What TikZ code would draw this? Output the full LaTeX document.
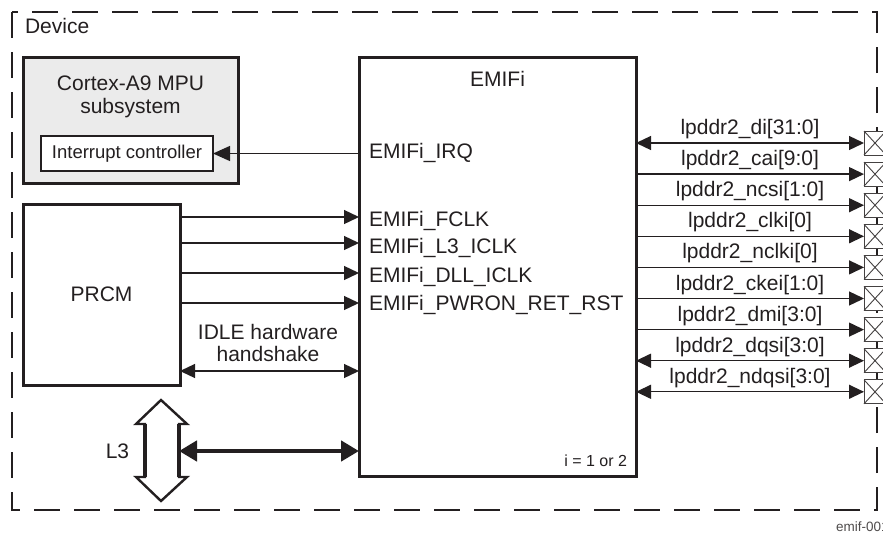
\documentclass[tikz,border=0pt]{standalone}
\usepackage{fontspec}
\setmainfont{Liberation Sans}
\usetikzlibrary{arrows.meta,calc}
\definecolor{ink}{HTML}{231F20}
\definecolor{cortexfill}{HTML}{EBEBEB}
\begin{document}
\begin{tikzpicture}[x=1pt,y=-1pt,
  every node/.style={text=ink, inner sep=0pt, outer sep=0pt},
  bigfont/.style={font=\fontsize{21}{22.4}\selectfont},
  midfont/.style={font=\fontsize{18.5}{22}\selectfont},
  smallfont/.style={font=\fontsize{16}{19}\selectfont},
  tinyfont/.style={font=\fontsize{13.5}{16}\selectfont},
  blockbox/.style={draw=ink, line width=3pt, fill=white},
  devframe/.style={draw=ink, line width=2.6pt, dash pattern=on 26pt off 14pt},
  pinbox/.style={draw=ink!85, line width=0.9pt, fill=white, minimum width=22pt, minimum height=24pt},
  sig/.style={draw=ink, line width=1.3pt, -{Triangle[length=15pt,width=14pt]}},
  bisig/.style={draw=ink, line width=1.3pt, {Triangle[length=15pt,width=14pt]}-{Triangle[length=15pt,width=14pt]}},
  busarrow/.style={draw=ink, line width=4.5pt, {Triangle[length=18pt,width=20pt]}-{Triangle[length=18pt,width=20pt]}},
]
\useasboundingbox (0,0) rectangle (883,533);

% Device frame
\draw[devframe] (12,12) rectangle (877,510);
\node[bigfont, anchor=base west] (devlbl) at (25,33) {Device};

% Cortex-A9 MPU subsystem
\node[blockbox, fill=cortexfill, minimum width=215pt, minimum height=126pt] (cortex) at (130.5,120) {};
\node[bigfont, align=center, anchor=base] (cortexlbl) at (130.5,113) {Cortex-A9 MPU\\subsystem};
\node[draw=ink, line width=2.4pt, fill=white, minimum width=172pt, minimum height=35pt, midfont] (intc) at (127,153.5) {Interrupt controller};

% PRCM
\node[blockbox, minimum width=157pt, minimum height=181pt, bigfont] (prcm) at (101.5,294.5) {PRCM};

% EMIFi
\node[blockbox, minimum width=277pt, minimum height=419pt] (emif) at (497.5,266.5) {};
\node[bigfont, anchor=base] (emiftitle) at (497.5,86) {EMIFi};
\node[bigfont, anchor=base west] (irq) at (369,158) {EMIFi\_IRQ};
\node[bigfont, anchor=base west] (fclk) at (369,226.5) {EMIFi\_FCLK};
\node[bigfont, anchor=base west] (l3clk) at (369,253.5) {EMIFi\_L3\_ICLK};
\node[bigfont, anchor=base west] (dllclk) at (369,282) {EMIFi\_DLL\_ICLK};
\node[bigfont, anchor=base west] (pwron) at (369,310) {EMIFi\_PWRON\_RET\_RST};
\node[smallfont, anchor=base east] (inote) at (627,466.5) {i = 1 or 2};

% IRQ connector
\draw[sig, -{Triangle[length=17pt,width=15pt]}] (emif.west |- intc.east) -- (intc.east);

% PRCM connectors
\coordinate (c1) at (180,217);
\coordinate (c2) at (180,243);
\coordinate (c3) at (180,273);
\coordinate (c4) at (180,303);
\coordinate (c5) at (180,371);
\draw[sig] (prcm.east |- c1) -- (emif.west |- c1);
\draw[sig] (prcm.east |- c2) -- (emif.west |- c2);
\draw[sig] (prcm.east |- c3) -- (emif.west |- c3);
\draw[sig] (prcm.east |- c4) -- (emif.west |- c4);
\draw[bisig] (prcm.east |- c5) -- (emif.west |- c5);
\node[bigfont, align=center, anchor=base] (idle) at (268,361.7) {IDLE hardware\\handshake};

% L3 bus
\draw[draw=ink, line width=2.4pt, line join=miter, fill=white]
  (161,400) -- (187,424) -- (179,424) -- (179,477) -- (187,477) -- (161,501)
  -- (136,477) -- (145,477) -- (145,424) -- (136,424) -- cycle;
\draw[draw=ink, line width=3.4pt] (145,424) -- (145,477) (179,424) -- (179,477);
\coordinate (l3r) at (179,451);
\node[bigfont, anchor=base] (l3lbl) at (117.5,458) {L3};
\draw[busarrow] (l3r) -- (emif.west |- l3r);

% Pins
\foreach \i/\y/\lbl/\kind in {1/143/lpddr2\_di[31:0]/bisig,
  2/174.1/lpddr2\_cai[9:0]/sig,
  3/205.2/lpddr2\_ncsi[1:0]/sig,
  4/236.3/lpddr2\_clki[0]/sig,
  5/267.4/lpddr2\_nclki[0]/sig,
  6/298.5/lpddr2\_ckei[1:0]/sig,
  7/329.6/lpddr2\_dmi[3:0]/sig,
  8/360.7/lpddr2\_dqsi[3:0]/bisig,
  9/391.8/lpddr2\_ndqsi[3:0]/bisig}{
  \node[pinbox] (pin\i) at (875,\y) {};
  \draw[draw=ink!85, line width=0.9pt] (pin\i.north west) -- (pin\i.south east) (pin\i.south west) -- (pin\i.north east);
  \draw[\kind] (emif.east |- pin\i.west) -- (pin\i.west);
  \node[bigfont, anchor=base] (plbl\i) at (750,\y-8.5) {\lbl};
}

% Figure id
\node[tinyfont, text=ink!80, anchor=base west] (figid) at (836,531.5) {emif-001};
\end{tikzpicture}
\end{document}
